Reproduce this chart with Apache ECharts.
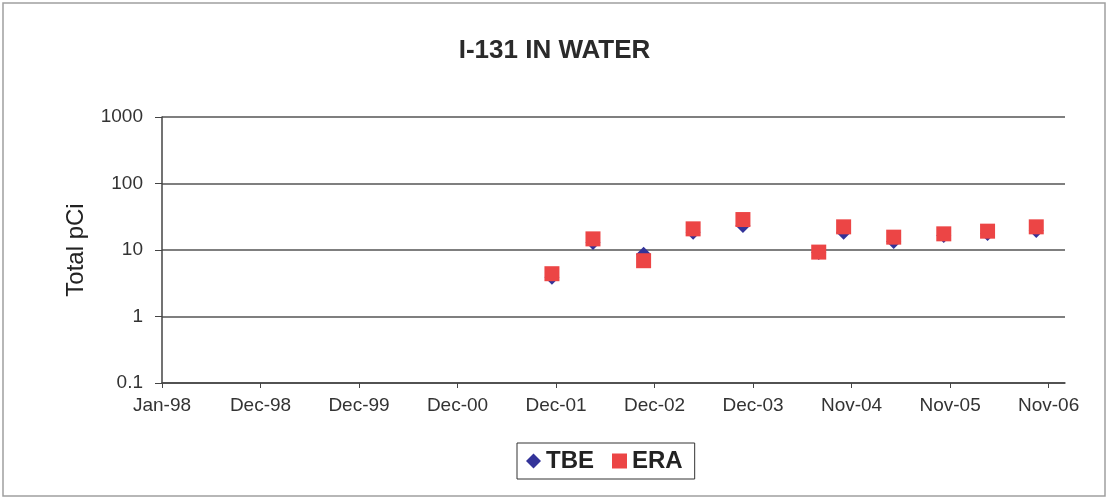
<!DOCTYPE html>
<html>
<head>
<meta charset="utf-8">
<script src="https://cdn.jsdelivr.net/npm/echarts@6/dist/echarts.min.js"></script>
<style>
  html, body { margin: 0; padding: 0; background: #fff; }
  #chart { width: 1109px; height: 500px; }
</style>
</head>
<body>
<div id="chart"></div>
<script>
// sample dates and values, pCi
var sampleDates = ['2001-11-26', '2002-04-25', '2002-10-27', '2003-04-26', '2003-10-25',
                   '2004-07-28', '2004-10-27', '2005-04-28', '2005-10-28', '2006-04-06', '2006-10-01'];
var tbe = [3.9, 13.0, 8.6, 18.5, 23.4, 9.2, 18.5, 13.4, 16.5, 17.7, 19.6];
var era = [4.4, 14.7, 6.9, 20.8, 28.7, 9.3, 22.3, 15.6, 17.5, 19.2, 22.3];
var yTicks = [0.1, 1, 10, 100, 1000];

// excel style date axis: day count from Jan-98, major unit 360 days
var axisStart = Date.UTC(1998, 0, 1);
var dayMs = 86400000;
var months = ['Jan','Feb','Mar','Apr','May','Jun','Jul','Aug','Sep','Oct','Nov','Dec'];

function toDay(s) {
  var p = s.split('-');
  return Math.round((Date.UTC(+p[0], +p[1] - 1, +p[2]) - axisStart) / dayMs);
}
function dayLabel(v) {
  var d = new Date(axisStart + v * dayMs);
  return months[d.getUTCMonth()] + '-' + String(d.getUTCFullYear()).slice(2);
}

var days = sampleDates.map(toDay);
var tbeData = days.map(function (d, i) { return [d, tbe[i]]; });
var eraData = days.map(function (d, i) { return [d, era[i]]; });

var myChart = echarts.init(document.getElementById('chart'));
var option = {
  backgroundColor: '#fff',
  animation: false,
  title: {
    text: 'I-131 IN WATER',
    left: 'center',
    top: 33,
    textStyle: { fontFamily: 'Liberation Sans', fontSize: 26, fontWeight: 'bold', color: '#2a2a2a' }
  },
  graphic: [{
    type: 'rect',
    shape: { x: 3, y: 3, width: 1102, height: 493 },
    style: { fill: 'none', stroke: '#a0a0a0', lineWidth: 1.5 },
    silent: true
  }],
  legend: {
    bottom: 21,
    left: 517,
    itemGap: 18,
    itemWidth: 15,
    itemHeight: 15,
    padding: [6, 12, 6, 9],
    borderColor: '#333',
    borderWidth: 1,
    textStyle: { fontFamily: 'Liberation Sans', fontSize: 24, fontWeight: 'bold', color: '#222' },
    data: [
      { name: 'TBE', icon: 'diamond' },
      { name: 'ERA', icon: 'rect' }
    ]
  },
  grid: { left: 162, right: 44, top: 117, bottom: 117 },
  xAxis: {
    type: 'value',
    min: 0,
    max: 3300,
    interval: 360,
    splitLine: { show: false },
    axisLine: { lineStyle: { color: '#444', width: 1.5 } },
    axisTick: { show: true, length: 5, lineStyle: { color: '#444' } },
    axisLabel: {
      showMaxLabel: false,
      margin: 13,
      fontFamily: 'Liberation Sans',
      fontSize: 19,
      color: '#333',
      formatter: function (v) { return dayLabel(v); }
    }
  },
  yAxis: {
    type: 'log',
    logBase: 10,
    min: yTicks[0],
    max: yTicks[yTicks.length - 1],
    name: 'Total pCi',
    nameLocation: 'middle',
    nameGap: 74,
    nameTextStyle: { fontFamily: 'Liberation Sans', fontSize: 24, color: '#222' },
    axisLine: { show: true, lineStyle: { color: '#444', width: 1.5 } },
    axisTick: { show: true, length: 7, lineStyle: { color: '#444' } },
    splitLine: { show: true, lineStyle: { color: '#555', width: 1.5 } },
    axisLabel: {
      margin: 19,
      fontFamily: 'Liberation Sans',
      fontSize: 19,
      color: '#333',
      formatter: function (v) { return String(v); }
    }
  },
  series: [
    {
      name: 'TBE',
      type: 'scatter',
      symbol: 'diamond',
      symbolSize: 15,
      itemStyle: { color: '#333399', opacity: 1 },
      data: tbeData
    },
    {
      name: 'ERA',
      type: 'scatter',
      symbol: 'rect',
      symbolSize: 15,
      itemStyle: { color: '#ec4545', opacity: 1 },
      data: eraData
    }
  ]
};
myChart.setOption(option);
</script>
</body>
</html>
